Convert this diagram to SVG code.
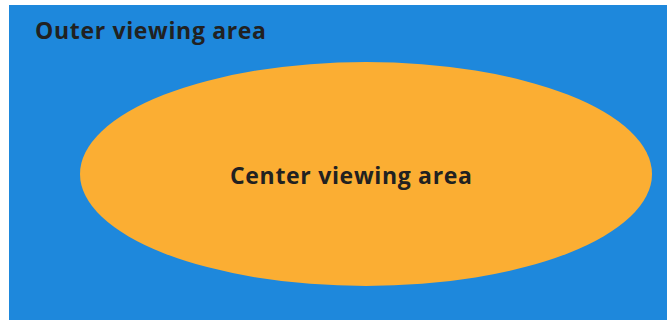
<svg xmlns="http://www.w3.org/2000/svg" width="667" height="320" viewBox="0 0 667 320">
<style>
.lbl{font-family:"Open Sans",Lato,"DejaVu Sans",sans-serif;font-weight:bold;font-size:23px;fill:#212121}
</style>
<rect width="667" height="320" fill="#ffffff"/>
<g id="outer">
<rect x="9" y="5" width="658" height="315" fill="#1e88dc"/>
<text class="lbl" x="35" y="39" textLength="231" lengthAdjust="spacing">Outer viewing area</text>
</g>
<g id="center">
<ellipse cx="366" cy="174" rx="286" ry="112" fill="#fbae33"/>
<text class="lbl" x="230" y="184" textLength="242" lengthAdjust="spacing">Center viewing area</text>
</g>
<g id="connectors"/>
</svg>
